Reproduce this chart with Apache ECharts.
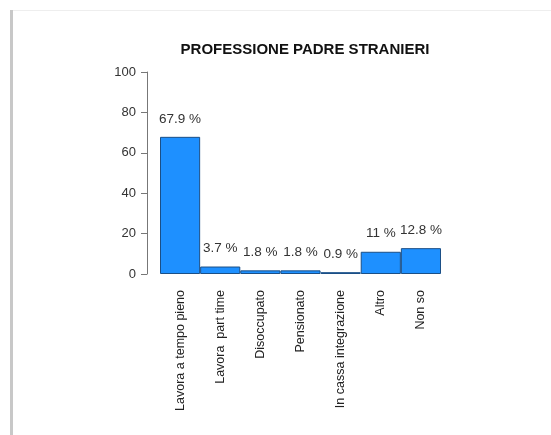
<!DOCTYPE html>
<html>
<head>
<meta charset="utf-8">
<script src="https://cdn.jsdelivr.net/npm/echarts@6/dist/echarts.min.js"></script>
<style>
	html,body{margin:0;padding:0;background:#fff;}
	#chart{width:551px;height:435px;}
</style>
</head>
<body>
<div id="chart"></div>
<script>
	var categories = ['Lavora a tempo pieno', 'Lavora  part time', 'Disoccupato', 'Pensionato', 'In cassa integrazione', 'Altro', 'Non so'];
	var values = [67.9, 3.7, 1.8, 1.8, 0.9, 11, 12.8];
	var yTicks = [0, 20, 40, 60, 80, 100];

	var chart = echarts.init(document.getElementById('chart'));
	var font = 'Liberation Sans, Arial, sans-serif';

	chart.setOption({
		animation : false,
		title : {
			text : 'PROFESSIONE PADRE STRANIERI',
			left : 300,
			top : 37,
			textAlign : 'center',
			textStyle : {
				fontFamily : font,
				fontSize : 15,
				fontWeight : 'bold',
				color : '#111'
			}
		},
		// decorative page frame from the screenshot
		graphic : [
			{type : 'rect', shape : {x : 10, y : 10, width : 3, height : 425}, style : {fill : '#c8c8c8'}},
			{type : 'rect', shape : {x : 13, y : 10, width : 538, height : 1}, style : {fill : '#eeeeee'}}
		],
		grid : {
			left : 160,
			right : 110,
			top : 72,
			bottom : 161
		},
		xAxis : {
			type : 'category',
			data : categories,
			axisLine : {show : false},
			axisTick : {show : false},
			axisLabel : {
				rotate : 90,
				interval : 0,
				margin : 16,
				fontFamily : font,
				fontSize : 12.5,
				color : '#222'
			}
		},
		yAxis : {
			type : 'value',
			min : yTicks[0],
			max : yTicks[yTicks.length - 1],
			interval : 20,
			offset : 13,
			splitLine : {show : false},
			axisLine : {show : true, lineStyle : {color : '#777', width : 1}},
			axisTick : {show : true, length : 6, lineStyle : {color : '#777'}},
			axisLabel : {
				margin : 11,
				fontFamily : font,
				fontSize : 13,
				color : '#333'
			}
		},
		series : [{
			type : 'bar',
			data : values,
			barCategoryGap : '0%',
			itemStyle : {
				color : '#1e90ff',
				borderColor : '#1b4f86',
				borderWidth : 1
			},
			label : {
				show : true,
				position : 'top',
				distance : 11,
				fontFamily : font,
				fontSize : 13.5,
				color : '#333',
				formatter : function(p){
					return p.value + ' %';
				}
			}
		}]
	});
</script>
</body>
</html>
